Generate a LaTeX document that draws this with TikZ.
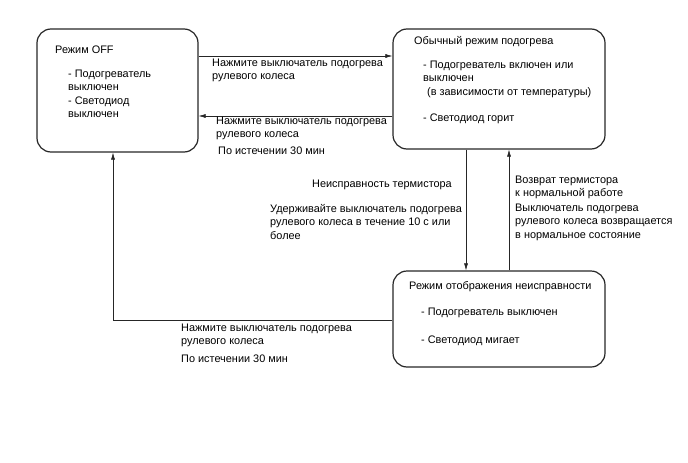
\documentclass[tikz,border=0pt]{standalone}
\usepackage{fontspec}
\setmainfont{Liberation Sans}
\usetikzlibrary{arrows.meta}

\begin{document}
\begin{tikzpicture}[
    x=1pt, y=-1pt,
    modebox/.style={rectangle, draw=black!85, line width=1.2pt, rounded corners=14pt},
    lbl/.style={anchor=north west, inner sep=0pt, align=left, yshift=9.45pt,
        font=\fontsize{10.9}{13.5}\selectfont, execute at begin node=\strut},
    arrow/.style={-{Latex[length=7pt,width=4pt]}, line width=0.6pt, draw=black!85}
]
\useasboundingbox (0,0) rectangle (688,463);

% Modes
\node[modebox, minimum width=161pt, minimum height=123pt] (off) at (117.5,90.5) {};
\node[modebox, minimum width=212pt, minimum height=120pt] (normal) at (499,89) {};
\node[modebox, minimum width=212pt, minimum height=96pt] (fault) at (499,319) {};

% Mode texts
\node[lbl] (offtitle) at (55,53) {Режим OFF};
\node[lbl] (offtext) at (68,79) {- Подогреватель\\выключен\\- Светодиод\\выключен};

\node[lbl] (normtitle) at (414,44) {Обычный режим подогрева};
\node[lbl] (normheat) at (423,70) {- Подогреватель включен или\\выключен\\\hspace{4pt}(в зависимости от температуры)};
\node[lbl] (normled) at (423,121) {- Светодиод горит};

\node[lbl] (faulttitle) at (409,289) {Режим отображения неисправности};
\node[lbl] (faultheat) at (421,315) {- Подогреватель выключен};
\node[lbl] (faultled) at (421,343) {- Светодиод мигает};

% Transitions
\draw[arrow] (off.east |- 0,56) -- (normal.west |- 0,56);
\draw[arrow] (normal.west |- 0,116) -- (off.east |- 0,116);
\draw[arrow] (normal.south -| 466,0) -- (fault.north -| 466,0);
\draw[arrow] (fault.north -| 509,0) -- (normal.south -| 509,0);
\draw[arrow] (fault.west |- 0,320) -| (off.south -| 113,0);

% Labels
\node[lbl] (pushon) at (212,68) {Нажмите выключатель подогрева\\рулевого колеса};
\node[lbl] (pushoff) at (216,126) {Нажмите выключатель подогрева\\рулевого колеса};
\node[lbl] (timeoff) at (218,154) {По истечении 30 мин};

\node[lbl, anchor=north east] (thermfail) at (452,187.5) {Неисправность термистора};
\node[lbl] (hold) at (270,213.5) {Удерживайте выключатель подогрева\\рулевого колеса в течение 10 с или\\более};
\node[lbl] (thermok) at (515,185) {Возврат термистора\\к нормальной работе};
\node[lbl] (switchok) at (515,213) {Выключатель подогрева\\рулевого колеса возвращается\\в нормальное состояние};

\node[lbl] (pushreset) at (181,333) {Нажмите выключатель подогрева\\рулевого колеса};
\node[lbl] (timereset) at (181,362) {По истечении 30 мин};

\end{tikzpicture}
\end{document}
